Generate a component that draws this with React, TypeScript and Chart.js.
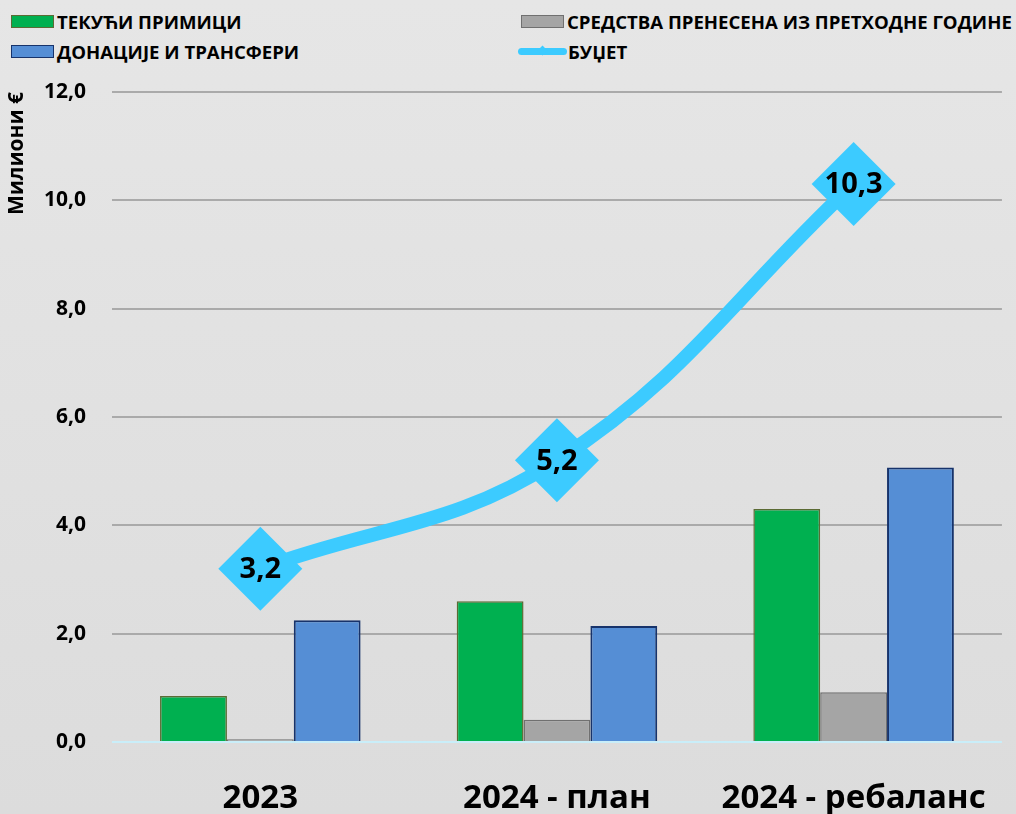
import React, { useEffect, useRef } from "react";
import { Chart, registerables } from "chart.js";

Chart.register(...registerables);

const categories = ["2023", "2024 - план", "2024 - ребаланс"];
const tekuciPrimici = [0.85, 2.6, 4.3];
const sredstvaPrenesena = [0.05, 0.41, 0.92];
const donacije = [2.25, 2.14, 5.07];
const budzet = [3.2, 5.2, 10.3];
const yTicks = [0, 2, 4, 6, 8, 10, 12];

const seriesNames = [
  "ТЕКУЋИ ПРИМИЦИ",
  "СРЕДСТВА ПРЕНЕСЕНА ИЗ ПРЕТХОДНЕ ГОДИНЕ",
  "ДОНАЦИЈЕ И ТРАНСФЕРИ",
  "БУЏЕТ",
];

const GREEN = "#00b050";
const GREEN_BORDER = "#5b6b34";
const GRAY = "#a5a5a5";
const GRAY_BORDER = "#707070";
const BLUE = "#558ed5";
const BLUE_BORDER = "#17336b";
const CYAN = "#3ccbff";

const fmt = (v: number) => v.toFixed(1).replace(".", ",");

const FONT = "'Open Sans', 'Noto Sans', sans-serif";

const pointLabels = {
  id: "pointLabels",
  afterDatasetsDraw(chart: any) {
    const ctx = chart.ctx;
    const meta = chart.getDatasetMeta(0);
    ctx.save();
    ctx.font = `700 29px ${FONT}`;
    ctx.fillStyle = "#000";
    ctx.textAlign = "center";
    ctx.textBaseline = "middle";
    meta.data.forEach((el: any, i: number) => {
      const v = chart.data.datasets[0].data[i];
      ctx.fillText(fmt(v), el.x, el.y + 1);
    });
    ctx.restore();
  },
};

function LegendItem({ label, kind, color, border, x, y }: any) {
  return (
    <div
      style={{
        position: "absolute",
        left: x,
        top: y,
        height: 22,
        display: "flex",
        alignItems: "center",
        fontFamily: FONT,
        fontWeight: 700,
        fontSize: 18.6,
        color: "#000",
        whiteSpace: "nowrap",
        letterSpacing: 0,
      }}
    >
      {kind === "box" ? (
        <div
          style={{
            width: 41,
            height: 11,
            background: color,
            border: `1.5px solid ${border}`,
            marginRight: 3,
          }}
        />
      ) : (
        <div style={{ position: "relative", width: 49, height: 22, marginRight: 1 }}>
          <div
            style={{
              position: "absolute",
              left: 0,
              top: 8,
              width: 49,
              height: 7,
              borderRadius: 4,
              background: color,
            }}
          />
          <div
            style={{
              position: "absolute",
              left: 21,
              top: 7,
              width: 7,
              height: 7,
              background: color,
              transform: "rotate(45deg)",
            }}
          />
        </div>
      )}
      <span>{label}</span>
    </div>
  );
}

export default function App() {
  const canvasRef = useRef<HTMLCanvasElement | null>(null);

  useEffect(() => {
    document.body.style.margin = "0";
    const canvas = canvasRef.current;
    if (!canvas) return;
    const chart = new Chart(canvas, {
      type: "bar",
      data: {
        labels: categories,
        datasets: [
          {
            type: "line",
            label: seriesNames[3],
            data: budzet,
            borderColor: CYAN,
            backgroundColor: CYAN,
            borderWidth: 14,
            tension: 0.4,
            pointStyle: "rectRot",
            pointRadius: 42,
            pointHoverRadius: 42,
            pointBorderWidth: 0,
            pointBackgroundColor: CYAN,
            clip: false,
            order: 0,
          } as any,
          {
            label: seriesNames[0],
            data: tekuciPrimici,
            backgroundColor: GREEN,
            borderColor: GREEN_BORDER,
            borderWidth: 1.5,
            order: 1,
          },
          {
            label: seriesNames[1],
            data: sredstvaPrenesena,
            backgroundColor: GRAY,
            borderColor: GRAY_BORDER,
            borderWidth: 1.5,
            order: 1,
          },
          {
            label: seriesNames[2],
            data: donacije,
            backgroundColor: BLUE,
            borderColor: BLUE_BORDER,
            borderWidth: 2,
            order: 1,
          },
        ],
      },
      options: {
        animation: false,
        responsive: false,
        maintainAspectRatio: false,
        layout: { autoPadding: false, padding: { top: 92, right: 8, left: 0, bottom: 0 } },
        datasets: {
          bar: { categoryPercentage: 0.676, barPercentage: 1 },
        },
        plugins: {
          legend: { display: false },
          tooltip: { enabled: false },
        },
        scales: {
          x: {
            grid: { display: false },
            border: { display: false },
            ticks: {
              color: "#000",
              font: { family: FONT, size: 33, weight: "bold" },
              padding: 29,
              maxRotation: 0,
              autoSkip: false,
            },
            afterFit: (s: any) => {
              s.height = 72;
            },
          },
          y: {
            min: 0,
            max: 12,
            afterBuildTicks: (s: any) => {
              s.ticks = yTicks.map((v) => ({ value: v }));
            },
            grid: {
              drawTicks: false,
              color: (c: any) => (c.tick && c.tick.value === 0 ? "#c9eef9" : "#aaaaaa"),
              lineWidth: 2,
            },
            border: { display: false },
            ticks: {
              color: "#000",
              font: { family: FONT, size: 21, weight: "bold" },
              padding: 26,
              callback: (v: any) => fmt(Number(v)),
            },
            title: {
              display: true,
              text: "Милиони €",
              align: "end",
              color: "#000",
              font: { family: FONT, size: 21, weight: "bold" },
              padding: { top: 4, bottom: 0 },
            },
            afterFit: (s: any) => {
              s.width = 112;
            },
          },
        },
      },
      plugins: [pointLabels],
    } as any);
    return () => chart.destroy();
  }, []);

  return (
    <div
      style={{
        position: "relative",
        width: 1016,
        height: 814,
        background: "linear-gradient(#e6e6e6, #dcdcdc)",
        overflow: "hidden",
      }}
    >
      <LegendItem label={seriesNames[0]} kind="box" color={GREEN} border={GREEN_BORDER} x={11} y={10} />
      <LegendItem label={seriesNames[1]} kind="box" color={GRAY} border={GRAY_BORDER} x={521} y={10} />
      <LegendItem label={seriesNames[2]} kind="box" color={BLUE} border={BLUE_BORDER} x={11} y={40} />
      <LegendItem label={seriesNames[3]} kind="line" color={CYAN} x={518} y={40} />
      <canvas
        ref={canvasRef}
        width={1016}
        height={814}
        style={{ position: "absolute", left: 0, top: 0, width: 1016, height: 814 }}
      />
    </div>
  );
}
